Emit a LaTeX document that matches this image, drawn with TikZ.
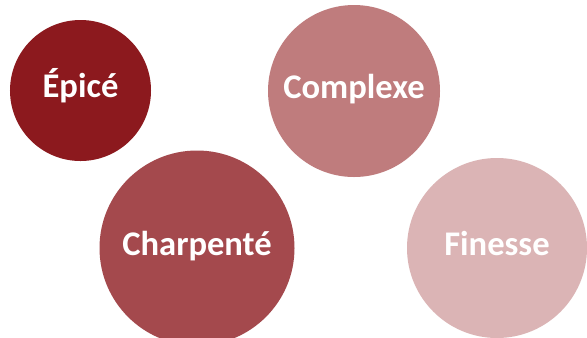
\documentclass[tikz,border=0pt]{standalone}
\usepackage{fontspec}
\setmainfont{Carlito}
\definecolor{cEpice}{HTML}{8C191E}
\definecolor{cCharp}{HTML}{A4494D}
\definecolor{cCompl}{HTML}{BF7C7D}
\definecolor{cFin}{HTML}{DBB4B5}
\tikzset{
  bubble/.style={circle, inner sep=0pt, draw=none, text=white,
    font=\fontsize{34.7}{38}\selectfont\bfseries, text height=20bp, text depth=6bp}
}
\begin{document}
\begin{tikzpicture}[x=1bp,y=-1bp]
\useasboundingbox (0,0) rectangle (587,337);
\fill[white] (0,0) rectangle (587,337);
\begin{scope}
\clip (0,0) rectangle (587,337);
\node[bubble, fill=cEpice, minimum size=141bp] (epice) at (80.5,90.5) {Épicé};
\node[bubble, fill=cCompl, minimum size=172bp] (complexe) at (354,91) {Complexe};
\node[bubble, fill=cCharp, minimum size=195bp] (charpente) at (197,248) {Charpenté};
\node[bubble, fill=cFin, minimum size=180bp] (finesse) at (497,248) {Finesse};
\end{scope}
\end{tikzpicture}
\end{document}
